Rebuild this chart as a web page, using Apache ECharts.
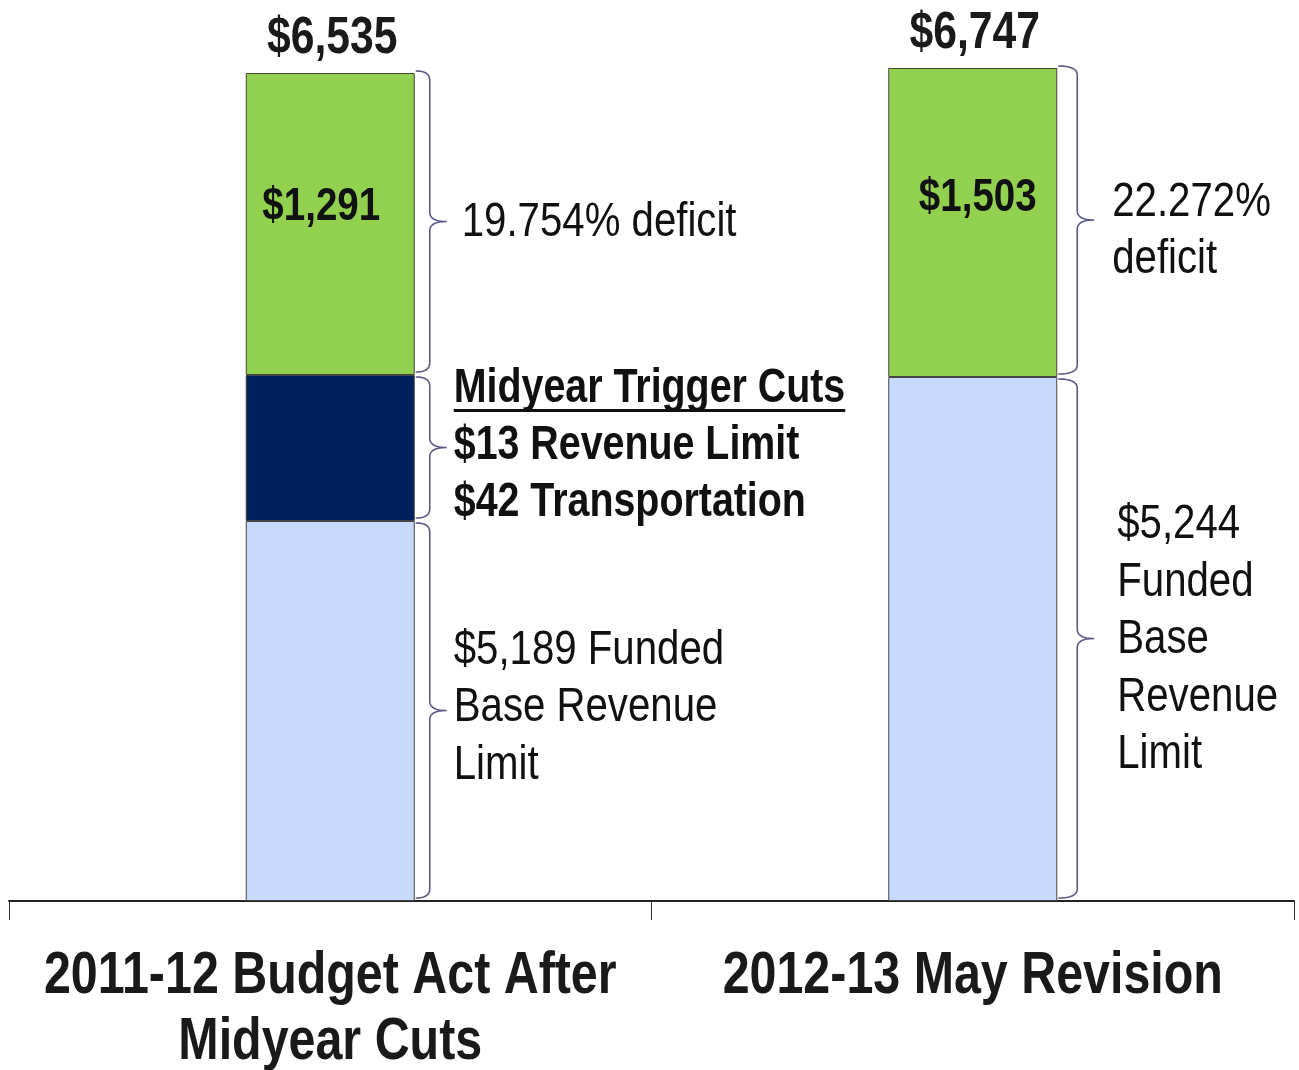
<!DOCTYPE html>
<html>
<head>
    <meta charset="utf-8">
    <script src="https://cdn.jsdelivr.net/npm/echarts@6/dist/echarts.min.js"></script>
    <title>Revenue limit deficit</title>
    <style>
        html, body { margin: 0; padding: 0; background: #fff; }
        #main { width: 1299px; height: 1070px; }
    </style>
</head>
<body>
<div id="main"></div>
<script type="text/javascript">
    // categories on the x axis
    var categories = ['2011-12 Budget Act After\nMidyear Cuts', '2012-13 May Revision'];

    // the picture is not drawn to scale, so segment heights are read off the picture
    var baseHeight = [380, 524];
    var triggerHeight = [146, null];
    var deficitHeight = [302, 309];

    // dollar amounts printed on the chart
    var totalLabels = ['$6,535', '$6,747'];
    var deficitLabels = ['$1,291', '$1,503'];

    // brace notes
    var deficitNotes = ['19.754% deficit', '22.272%\ndeficit'];
    var baseNotes = ['$5,189 Funded\nBase Revenue\nLimit', '$5,244\nFunded\nBase\nRevenue\nLimit'];
    var triggerNotes = ['Midyear Trigger Cuts', '$13 Revenue Limit', '$42 Transportation'];

    // Arial-metric font squeezed to look like Arial Narrow
    var FONT = "'Liberation Sans', Arial, sans-serif";
    var NARROW = 0.82;
    var barWidth = 169;
    var braceColor = '#5B5A86';

    var totals = baseHeight.map(function (b, i) {
        return b + (triggerHeight[i] || 0) + deficitHeight[i];
    });

    var braces = [
        { cat: 0, from: 0, to: baseHeight[0], text: baseNotes[0], dy: -3 },
        { cat: 0, from: baseHeight[0], to: baseHeight[0] + triggerHeight[0], trigger: true, dy: -2 },
        { cat: 0, from: baseHeight[0] + triggerHeight[0], to: totals[0], text: deficitNotes[0], dx: 8, dy: 1 },
        { cat: 1, from: 0, to: baseHeight[1], text: baseNotes[1], dx: 5, dy: 1 },
        { cat: 1, from: baseHeight[1], to: totals[1], text: deficitNotes[1], dy: 11 }
    ];
    // per-bar brace spacing
    var braceGap = [15, 20];
    var noteGap = [7, 18];
    var deficitLabelOffset = [[-9, -17], [5, -24]];

    function measure(text, font) {
        var ctx = document.createElement('canvas').getContext('2d');
        ctx.font = font;
        return ctx.measureText(text).width;
    }

    function narrowText(x, y, text, o) {
        return {
            type: 'text', x: x, y: y, scaleX: NARROW,
            style: {
                text: text, fill: o.color || '#111',
                fontFamily: FONT, fontSize: o.size, fontWeight: o.bold ? 'bold' : 'normal',
                lineHeight: o.lineHeight || o.size,
                align: o.align || 'center', verticalAlign: o.valign || 'middle',
                textAlign: o.align || 'center', textVerticalAlign: o.valign || 'middle'
            }
        };
    }

    function quad(p0, p1, p2, out) {
        for (var t = 1; t <= 8; t++) {
            var s = t / 8;
            out.push([
                (1 - s) * (1 - s) * p0[0] + 2 * (1 - s) * s * p1[0] + s * s * p2[0],
                (1 - s) * (1 - s) * p0[1] + 2 * (1 - s) * s * p1[1] + s * s * p2[1]
            ]);
        }
    }

    function renderBrace(params, api) {
        var b = braces[params.dataIndex];
        var cat = api.value(0);
        var center = api.coord([cat, 0])[0];
        var edge = center + barWidth / 2;
        var yBot = api.coord([cat, api.value(1)])[1] - 3;
        var yTop = api.coord([cat, api.value(2)])[1] + 2;
        if (b.to === totals[cat]) yTop -= 4;
        var x0 = edge + 1, x1 = edge + braceGap[cat], x2 = x1 + 17;
        var mid = (yTop + yBot) / 2, r = 9;
        var pts = [[x0, yTop]];
        quad([x0, yTop], [x1, yTop], [x1, yTop + r], pts);
        pts.push([x1, mid - r]);
        quad([x1, mid - r], [x1, mid], [x2, mid], pts);
        quad([x2, mid], [x1, mid], [x1, mid + r], pts);
        pts.push([x1, yBot - r]);
        quad([x1, yBot - r], [x1, yBot], [x0, yBot], pts);

        var children = [{
            type: 'polyline',
            shape: { points: pts },
            style: { fill: null, stroke: braceColor, lineWidth: 1.6 }
        }];
        var tx = x2 + noteGap[cat] + (b.dx || 0);
        var ty = mid + (b.dy || 0);
        if (b.trigger) {
            var lh = 57;
            children.push(narrowText(tx, ty, triggerNotes.join('\n'),
                { size: 48, bold: true, lineHeight: lh, align: 'left' }));
            var w = measure(triggerNotes[0], 'bold 48px ' + FONT) * NARROW;
            var uy = ty - lh + 22;
            children.push({
                type: 'line',
                shape: { x1: tx, y1: uy, x2: tx + w, y2: uy },
                style: { stroke: '#111', lineWidth: 3 }
            });
        } else {
            children.push(narrowText(tx, ty, b.text,
                { size: 49, lineHeight: 57.5, align: 'left' }));
        }
        return { type: 'group', children: children };
    }

    var myChart = echarts.init(document.getElementById('main'));
    var option = {
        animation: false,
        grid: { left: 9, right: 5, top: 1, bottom: 169, containLabel: false, outerBoundsMode: 'none' },
        xAxis: {
            type: 'category',
            data: categories,
            axisLine: { lineStyle: { color: '#222', width: 2 } },
            axisTick: { show: true, length: 19, lineStyle: { color: '#333', width: 1 } },
            axisLabel: { show: false }
        },
        yAxis: {
            type: 'value', min: 0, max: 900, show: false,
            splitLine: { show: false }
        },
        series: [
            {
                name: 'Funded Base Revenue Limit', type: 'bar', stack: 'a',
                barWidth: barWidth, data: baseHeight,
                itemStyle: { color: '#C8DAFC', borderColor: '#444', borderWidth: 1 }
            },
            {
                name: 'Midyear Trigger Cuts', type: 'bar', stack: 'a',
                barWidth: barWidth, data: triggerHeight,
                itemStyle: { color: '#00205C', borderColor: '#444', borderWidth: 1 }
            },
            {
                name: 'Deficit', type: 'bar', stack: 'a',
                barWidth: barWidth, data: deficitHeight,
                itemStyle: { color: '#92D050', borderColor: '#444', borderWidth: 1 }
            },
            {
                // labels inside the green segments
                name: 'Deficit labels', type: 'custom', silent: true, clip: false, z: 6,
                encode: { x: 0, y: 1 },
                data: deficitHeight.map(function (v, i) {
                    return [i, baseHeight[i] + (triggerHeight[i] || 0) + v / 2];
                }),
                renderItem: function (params, api) {
                    var i = params.dataIndex;
                    var p = api.coord([api.value(0), api.value(1)]);
                    var off = deficitLabelOffset[i];
                    return narrowText(p[0] + off[0], p[1] + off[1], deficitLabels[i], { size: 47, bold: true });
                }
            },
            {
                // totals above the bars
                name: 'Totals', type: 'custom', silent: true, clip: false, z: 6,
                encode: { x: 0, y: 1 },
                data: totals.map(function (t, i) { return [i, t]; }),
                renderItem: function (params, api) {
                    var p = api.coord([api.value(0), api.value(1)]);
                    return narrowText(p[0] + 2, p[1] - 34, totalLabels[params.dataIndex],
                        { size: 52, bold: true, color: '#1a1a1a' });
                }
            },
            {
                // category names under the axis
                name: 'Category labels', type: 'custom', silent: true, clip: false, z: 6,
                encode: { x: 0, y: 1 },
                data: categories.map(function (c, i) { return [i, 0]; }),
                renderItem: function (params, api) {
                    var p = api.coord([api.value(0), 0]);
                    return narrowText(p[0], p[1] + 43, categories[params.dataIndex],
                        { size: 59, bold: true, lineHeight: 66, valign: 'top', color: '#1a1a1a' });
                }
            },
            {
                name: 'Braces', type: 'custom', silent: true, clip: false, z: 5,
                renderItem: renderBrace,
                encode: { x: 0, y: [1, 2] },
                data: braces.map(function (b) { return [b.cat, b.from, b.to]; })
            }
        ]
    };
    myChart.setOption(option);
</script>
</body>
</html>
